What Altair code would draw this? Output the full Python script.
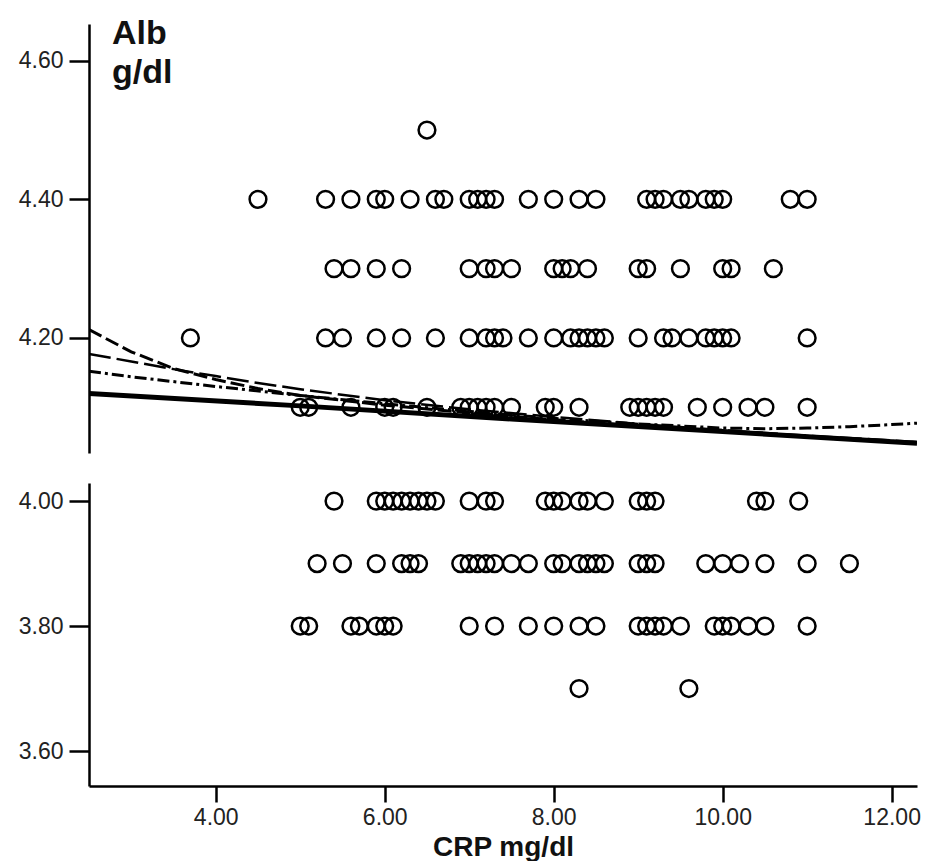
import altair as alt
import pandas as pd

# ---- scatter data: CRP (mg/dl) values at each Alb (g/dl) level ----
alb_levels = [4.50, 4.40, 4.30, 4.20, 4.10, 4.00, 3.90, 3.80, 3.70]
crp_450 = [6.5]
crp_440 = [4.5, 5.3, 5.6, 5.9, 6.0, 6.3, 6.6, 6.7, 7.0, 7.1, 7.2, 7.3, 7.7, 8.0, 8.3, 8.5,
           9.1, 9.2, 9.3, 9.5, 9.6, 9.8, 9.9, 10.0, 10.8, 11.0]
crp_430 = [5.4, 5.6, 5.9, 6.2, 7.0, 7.2, 7.3, 7.5, 8.0, 8.1, 8.2, 8.4, 9.0, 9.1, 9.5,
           10.0, 10.1, 10.6]
crp_420 = [3.7, 5.3, 5.5, 5.9, 6.2, 6.6, 7.0, 7.2, 7.3, 7.4, 7.7, 8.0, 8.2, 8.3, 8.4, 8.5,
           8.6, 9.0, 9.3, 9.4, 9.6, 9.8, 9.9, 10.0, 10.1, 11.0]
crp_410 = [5.0, 5.1, 5.6, 6.0, 6.1, 6.5, 6.9, 7.0, 7.1, 7.2, 7.3, 7.5, 7.9, 8.0, 8.3, 8.9,
           9.0, 9.1, 9.2, 9.3, 9.7, 10.0, 10.3, 10.5, 11.0]
crp_400 = [5.4, 5.9, 6.0, 6.1, 6.2, 6.3, 6.4, 6.5, 6.6, 7.0, 7.2, 7.3, 7.9, 8.0, 8.1, 8.3,
           8.4, 8.6, 9.0, 9.1, 9.2, 10.4, 10.5, 10.9]
crp_390 = [5.2, 5.5, 5.9, 6.2, 6.3, 6.4, 6.9, 7.0, 7.1, 7.2, 7.3, 7.5, 7.7, 8.0, 8.1, 8.3,
           8.4, 8.5, 8.6, 9.0, 9.1, 9.2, 9.8, 10.0, 10.2, 10.5, 11.0, 11.5]
crp_380 = [5.0, 5.1, 5.6, 5.7, 5.9, 6.0, 6.1, 7.0, 7.3, 7.7, 8.0, 8.3, 8.5, 9.0, 9.1, 9.2,
           9.3, 9.5, 9.9, 10.0, 10.1, 10.3, 10.5, 11.0]
crp_370 = [8.3, 9.6]
crp_rows = [crp_450, crp_440, crp_430, crp_420, crp_410, crp_400, crp_390, crp_380, crp_370]

# ---- fitted curves ----
fit_linear_x = [2.5, 5.0, 7.5, 10.0, 12.3]
fit_linear_y = [4.120, 4.102, 4.083, 4.065, 4.048]
fit_a_x = [2.5, 3.0, 3.5, 4.0, 4.5, 5.0, 6.0, 7.0, 8.0, 9.0, 10.0, 11.0, 12.3]
fit_a_y = [4.212, 4.180, 4.156, 4.140, 4.127, 4.117, 4.103, 4.092, 4.082, 4.073, 4.065, 4.058, 4.049]
fit_b_x = [2.5, 3.0, 3.5, 4.0, 4.5, 5.0, 6.0, 7.0, 8.0, 9.0, 10.0, 11.0, 12.3]
fit_b_y = [4.177, 4.166, 4.155, 4.145, 4.135, 4.126, 4.110, 4.097, 4.086, 4.076, 4.067, 4.059, 4.050]
fit_c_x = [2.5, 3.0, 4.0, 5.0, 6.0, 7.0, 8.0, 9.0, 10.0, 10.5, 11.0, 11.5, 12.0, 12.3]
fit_c_y = [4.152, 4.144, 4.130, 4.117, 4.105, 4.094, 4.084, 4.076, 4.070, 4.069, 4.070, 4.072, 4.075, 4.077]

rows = []
for alb, xs in zip(alb_levels, crp_rows):
    for v in xs:
        rows.append({"crp": v, "alb": alb})
pts = pd.DataFrame(rows)
upper_pts = pts[pts["alb"] >= 4.05]
lower_pts = pts[pts["alb"] < 4.05]

FONT = "Liberation Sans"
X_DOMAIN = [2.5, 12.3]
W = 828

x_upper = alt.X("crp:Q", scale=alt.Scale(domain=X_DOMAIN, nice=False, zero=False), axis=None)
x_lower = alt.X("crp:Q", scale=alt.Scale(domain=X_DOMAIN, nice=False, zero=False),
                axis=alt.Axis(values=[4, 6, 8, 10, 12], format=".2f", title="CRP mg/dl",
                              tickSize=16, tickWidth=2.5, domainWidth=2.5, labelPadding=4,
                              titlePadding=4, titleFontSize=28, titleFontWeight="bold",
                              titleFont=FONT, titleColor="#111"))

def y_enc(domain, ticks):
    return alt.Y("alb:Q", scale=alt.Scale(domain=domain, nice=False, zero=False),
                 axis=alt.Axis(values=ticks, format=".2f", title=None, tickSize=20,
                               tickWidth=2.5, domainWidth=2.5, labelPadding=6,
                               minExtent=72, maxExtent=72))

pt_mark = dict(shape="circle", filled=False, size=280, strokeWidth=2.5, color="black", opacity=1)

upper_scatter = alt.Chart(upper_pts).mark_point(**pt_mark).encode(
    x=x_upper, y=y_enc([4.034, 4.653], [4.2, 4.4, 4.6]))

def fit_layer(xs, ys, **kw):
    df = pd.DataFrame({"crp": xs, "alb": ys})
    return alt.Chart(df).mark_line(color="black", clip=True, **kw).encode(
        x=x_upper, y=y_enc([4.034, 4.653], [4.2, 4.4, 4.6]))

lines = [
    fit_layer(fit_a_x, fit_a_y, strokeWidth=3, strokeDash=[14, 5]),
    fit_layer(fit_b_x, fit_b_y, strokeWidth=2.5, strokeDash=[22, 6]),
    fit_layer(fit_c_x, fit_c_y, strokeWidth=3, strokeDash=[12, 4, 3, 4]),
    fit_layer(fit_linear_x, fit_linear_y, strokeWidth=5),
]

ytitle = alt.Chart(pd.DataFrame({"t": ["Alb\ng/dl"]})).mark_text(
    align="left", baseline="alphabetic", fontSize=34, fontWeight="bold", font=FONT,
    lineBreak="\n", lineHeight=39, color="#111").encode(
    text="t:N", x=alt.value(23), y=alt.value(20))

upper = alt.layer(upper_scatter, *lines, ytitle).properties(width=W, height=429)

lower = alt.Chart(lower_pts).mark_point(**pt_mark).encode(
    x=x_lower, y=y_enc([3.544, 4.029], [3.6, 3.8, 4.0])).properties(width=W, height=303)

chart = alt.vconcat(upper, lower, spacing=30).properties(
    padding={"left": 9, "top": 9, "right": 0, "bottom": 0}
).configure_view(stroke=None).configure_axis(
    grid=False, domainColor="black", tickColor="black", labelColor="#222",
    labelFont=FONT, labelFontSize=23, titleFont=FONT
)

chart.save("out.html", embed_options={"renderer": "svg", "actions": False})
